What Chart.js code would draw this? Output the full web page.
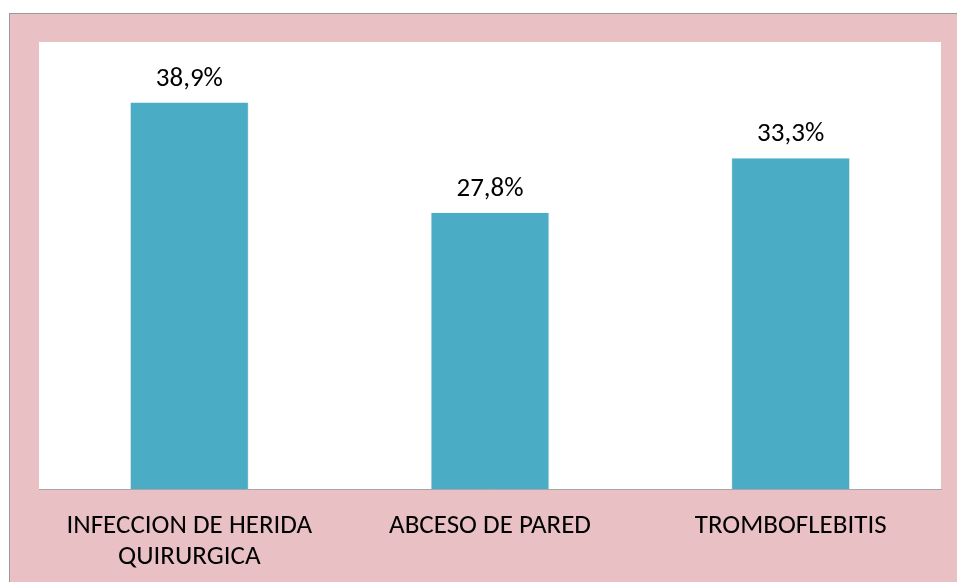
<!DOCTYPE html>
<html>
<head>
<meta charset="utf-8">
<script src="https://cdn.jsdelivr.net/npm/chart.js@4.4.1/dist/chart.umd.min.js"></script>
<style>
  html, body { margin: 0; padding: 0; background: #fff; }
  #wrap { position: relative; width: 957px; height: 582px; }
</style>
</head>
<body>
<div id="wrap"><canvas id="chart"></canvas></div>
<script>
const categories = [["INFECCION DE HERIDA", "QUIRURGICA"], "ABCESO DE PARED", "TROMBOFLEBITIS"];
const percentages = [38.9, 27.8, 33.3];
const valueLabels = ["38,9%", "27,8%", "33,3%"];
const yMax = 45;

const FONT = "Calibri, Carlito, 'Open Sans', sans-serif";

// pink frame + white plot area behind the bars
const framePlugin = {
  id: "frame",
  beforeDraw(chart) {
    const { ctx, chartArea: a, width, height } = chart;
    ctx.save();
    ctx.fillStyle = "#ffffff";
    ctx.fillRect(0, 0, width, height);
    ctx.fillStyle = "#e9c0c3";
    ctx.fillRect(10, 14, width - 10, height - 14);
    ctx.fillStyle = "#9a9a9a";
    ctx.fillRect(9, 13, width - 9, 1);
    ctx.fillRect(9, 13, 1, height - 13);
    ctx.fillStyle = "#ffffff";
    ctx.fillRect(a.left, a.top, a.right - a.left, a.bottom - a.top);
    ctx.restore();
  }
};

const valueLabelPlugin = {
  id: "valueLabels",
  afterDatasetsDraw(chart) {
    const { ctx } = chart;
    const meta = chart.getDatasetMeta(0);
    ctx.save();
    ctx.font = "27px " + FONT;
    ctx.fillStyle = "#000";
    ctx.textAlign = "center";
    ctx.textBaseline = "alphabetic";
    meta.data.forEach((bar, i) => {
      ctx.fillText(valueLabels[i], bar.x, bar.y - 17);
    });
    ctx.restore();
  }
};

new Chart(document.getElementById("chart"), {
  type: "bar",
  data: {
    labels: categories,
    datasets: [{
      data: percentages,
      backgroundColor: "#4bacc6",
      borderColor: "rgba(0,0,0,0.07)",
      borderWidth: { left: 1, right: 1, top: 0, bottom: 0 },
      barPercentage: 0.396,
      categoryPercentage: 1
    }]
  },
  options: {
    responsive: true,
    maintainAspectRatio: false,
    animation: false,
    layout: { padding: { left: 39, right: 16, top: 42, bottom: 0 } },
    plugins: { legend: { display: false }, tooltip: { enabled: false } },
    scales: {
      x: {
        grid: { display: false, drawTicks: false },
        border: { display: true, color: "#a6a6a6", width: 1 },
        ticks: {
          color: "#000",
          font: { family: FONT, size: 27, lineHeight: 1.15 },
          padding: 22,
          maxRotation: 0,
          autoSkip: false
        },
        afterFit(scale) { scale.height = 93; }
      },
      y: {
        display: false,
        min: 0,
        max: yMax
      }
    }
  },
  plugins: [framePlugin, valueLabelPlugin]
});
</script>
</body>
</html>
